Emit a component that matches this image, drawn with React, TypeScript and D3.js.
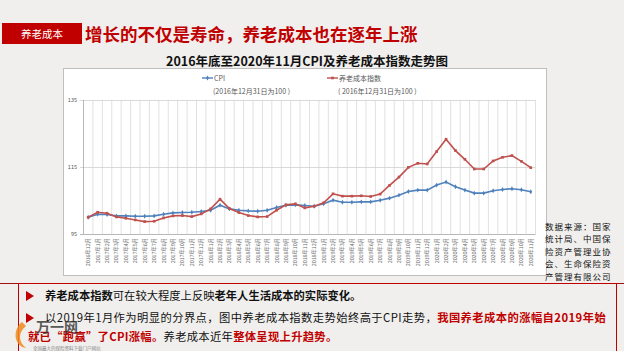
import React, { useEffect, useRef } from 'react'
import * as d3 from 'd3'

// months on the category axis
const months = [
  '2016年12月',
  '2017年1月', '2017年2月', '2017年3月', '2017年4月', '2017年5月', '2017年6月',
  '2017年7月', '2017年8月', '2017年9月', '2017年10月', '2017年11月', '2017年12月',
  '2018年1月', '2018年2月', '2018年3月', '2018年4月', '2018年5月', '2018年6月',
  '2018年7月', '2018年8月', '2018年9月', '2018年10月', '2018年11月', '2018年12月',
  '2019年1月', '2019年2月', '2019年3月', '2019年4月', '2019年5月', '2019年6月',
  '2019年7月', '2019年8月', '2019年9月', '2019年10月', '2019年11月', '2019年12月',
  '2020年1月', '2020年2月', '2020年3月', '2020年4月', '2020年5月', '2020年6月',
  '2020年7月', '2020年8月', '2020年9月', '2020年10月', '2020年11月'
]

const cpi = [
  100, 100.9, 100.8, 100.4, 100.4, 100.3, 100.3, 100.4, 100.9, 101.3, 101.4, 101.5, 101.7,
  102.1, 103.6, 102.5, 102.1, 101.9, 101.8, 102.1, 102.9, 103.6, 103.7, 103.5, 103.3,
  104.0, 105.1, 104.5, 104.5, 104.6, 104.6, 105.1, 105.7, 106.6, 107.7, 108.1, 108.1,
  109.6, 110.5, 109.1, 108.1, 107.2, 107.2, 107.9, 108.3, 108.5, 108.2, 107.6
]

const pension = [
  100, 101.5, 101.2, 100.1, 99.7, 99.2, 98.7, 98.8, 99.8, 100.4, 100.5, 100.2, 101.0,
  102.5, 105.4, 102.6, 101.4, 100.5, 100.1, 100.2, 102.1, 103.7, 104.0, 102.8, 103.3,
  104.3, 107.0, 106.3, 106.3, 106.4, 106.2, 106.9, 109.5, 112.0, 114.9, 116.1, 115.9,
  119.6, 123.3, 119.9, 117.3, 114.4, 114.4, 116.8, 117.9, 118.4, 116.7, 114.8
]

const yTicks = [95, 115, 135]

const sources = ['数据来源：国家', '统计局、中国保', '险资产管理业协', '会、生命保险资', '产管理有限公司']

const FONT = '"Microsoft YaHei", "Noto Sans CJK SC", sans-serif'

function App() {
  const ref = useRef<SVGSVGElement>(null)

  useEffect(() => {
    const svg = d3.select(ref.current)
    svg.selectAll('*').remove()

    // slide background
    svg.append('rect').attr('width', 624).attr('height', 351).attr('fill', '#f0efed')

    // header
    svg.append('rect').attr('x', 2).attr('y', 23).attr('width', 80).attr('height', 21).attr('fill', '#c00000')
    svg.append('text').attr('x', 42).attr('y', 37.5).attr('text-anchor', 'middle')
      .attr('fill', '#fff').attr('font-size', 10.5).text('养老成本')
    svg.append('text').attr('x', 85).attr('y', 41).attr('fill', '#c00000')
      .attr('font-size', 17.5).attr('font-weight', 'bold')
      .text('增长的不仅是寿命，养老成本也在逐年上涨')

    // chart title
    svg.append('text').attr('x', 307).attr('y', 66).attr('text-anchor', 'middle')
      .attr('font-size', 12.5).attr('font-weight', 'bold').attr('fill', '#111')
      .text('2016年底至2020年11月CPI及养老成本指数走势图')

    // chart box
    svg.append('rect').attr('x', 63.5).attr('y', 68.5).attr('width', 483).attr('height', 207)
      .attr('fill', '#fff').attr('stroke', '#bfbfbf')

    const x = d3.scaleBand().domain(months).range([83.5, 535.5])
    const cx = (d: string) => (x(d) as number) + x.bandwidth() / 2
    const y = d3.scaleLinear().domain([95, 135]).range([234, 100])

    // vertical grid at category boundaries
    svg.append('g').selectAll('line')
      .data(months).enter().append('line')
      .attr('x1', d => (x(d) as number) + x.bandwidth())
      .attr('x2', d => (x(d) as number) + x.bandwidth())
      .attr('y1', y(135)).attr('y2', y(95))
      .attr('stroke', '#d9d9d9').attr('stroke-width', 0.8)

    // horizontal grid
    svg.append('g').selectAll('line')
      .data(yTicks).enter().append('line')
      .attr('x1', 80).attr('x2', 535.5)
      .attr('y1', d => y(d) + 0.5).attr('y2', d => y(d) + 0.5)
      .attr('stroke', d => d === 95 ? '#a6a6a6' : '#d0d0d0').attr('stroke-width', 0.8)

    // y axis
    svg.append('line').attr('x1', 83.5).attr('x2', 83.5).attr('y1', y(135)).attr('y2', y(95))
      .attr('stroke', '#a6a6a6').attr('stroke-width', 0.8)
    svg.append('g').selectAll('text')
      .data(yTicks).enter().append('text')
      .attr('x', 77).attr('y', d => y(d) + 2)
      .attr('text-anchor', 'end').attr('font-size', 5.5).attr('fill', '#555')
      .text(d => d)

    // x labels
    svg.append('g').selectAll('text')
      .data(months).enter().append('text')
      .attr('transform', d => `translate(${cx(d) + 2},238) rotate(-90)`)
      .attr('text-anchor', 'end').attr('font-size', 5.3).attr('fill', '#666')
      .text(d => d)

    // lines
    const series = [
      { values: cpi, color: '#4f81bd', shape: d3.symbolDiamond },
      { values: pension, color: '#c0504d', shape: d3.symbolSquare }
    ]
    series.forEach(s => {
      const line = d3.line<number>()
        .x((d, i) => cx(months[i]))
        .y(d => y(d))
      svg.append('path').attr('d', line(s.values))
        .attr('fill', 'none').attr('stroke', s.color).attr('stroke-width', 1.6)
      svg.append('g').selectAll('path')
        .data(s.values).enter().append('path')
        .attr('d', d3.symbol().type(s.shape).size(7)())
        .attr('transform', (d, i) => `translate(${cx(months[i])},${y(d)})`)
        .attr('fill', s.color)
    })

    // legend
    const legend = [
      { name: 'CPI', note: '(2016年12月31日为100 )', x: 202, color: '#4f81bd', shape: d3.symbolDiamond },
      { name: '养老成本指数', note: '( 2016年12月31日为100 )', x: 327, color: '#c0504d', shape: d3.symbolSquare }
    ]
    legend.forEach(l => {
      svg.append('line').attr('x1', l.x).attr('x2', l.x + 11).attr('y1', 78).attr('y2', 78)
        .attr('stroke', l.color).attr('stroke-width', 1.4)
      svg.append('path').attr('d', d3.symbol().type(l.shape).size(7)())
        .attr('transform', `translate(${l.x + 5.5},78)`).attr('fill', l.color)
      svg.append('text').attr('x', l.x + 12).attr('y', 80.5)
        .attr('font-size', 7).attr('fill', '#595959').text(l.name)
      svg.append('text').attr('x', l.x + 11).attr('y', 93.5)
        .attr('font-size', 7).attr('fill', '#595959').text(l.note)
    })

    // data source
    svg.append('g').selectAll('text')
      .data(sources).enter().append('text')
      .attr('x', 545).attr('y', (d, i) => 230 + i * 12.4)
      .attr('font-size', 8.5).attr('letter-spacing', 1).attr('fill', '#111')
      .text(d => d)

    // bottom box
    svg.append('line').attr('x1', 0).attr('x2', 624).attr('y1', 283.5).attr('y2', 283.5)
      .attr('stroke', '#a01010').attr('stroke-width', 1.2)
    svg.append('rect').attr('x', 18.5).attr('y', 283.5).attr('width', 598).attr('height', 80)
      .attr('fill', 'none').attr('stroke', '#c00000').attr('stroke-width', 1)

    const tri = [[26, 291], [26, 301], [34, 296]]
    ;[0, 22].forEach(dy => {
      svg.append('path')
        .attr('d', d3.line()(tri.map(p => [p[0], p[1] + dy] as [number, number])) + 'Z')
        .attr('fill', '#c00000')
    })

    const rows = [
      { x: 45, y: 300, ls: 0, parts: [['养老成本指数', 'b'], ['可在较大程度上反映', 'n'], ['老年人生活成本的实际变化。', 'b']] },
      { x: 45, y: 322, ls: 0.42, parts: [['以2019年1月作为明显的分界点，图中养老成本指数走势始终高于CPI走势，', 'n'], ['我国养老成本的涨幅自2019年始', 'r']] },
      { x: 28, y: 341, ls: 0.3, parts: [['就已“跑赢”了CPI涨幅。', 'r'], ['养老成本近年', 'n'], ['整体呈现上升趋势。', 'r']] }
    ]
    rows.forEach(r => {
      const t = svg.append('text').attr('x', r.x).attr('y', r.y).attr('font-size', 11.3)
        .attr('letter-spacing', r.ls)
      r.parts.forEach(p => {
        t.append('tspan').text(p[0])
          .attr('fill', p[1] === 'r' ? '#c00000' : '#111')
          .attr('font-weight', p[1] === 'n' ? 'normal' : 'bold')
      })
    })

    // watermark logo
    svg.append('path').attr('d', 'M22,322 C12,330 14,346 26,348 C18,342 18,332 26,326 Z')
      .attr('fill', '#f08a1c').attr('opacity', 0.85)
    svg.append('text').attr('x', 36).attr('y', 332).attr('font-size', 14).attr('font-weight', 'bold')
      .attr('fill', '#333').attr('opacity', 0.8).text('万一网')
    svg.append('text').attr('x', 33).attr('y', 349.5).attr('font-size', 4.5).attr('fill', '#888')
      .text('全国最大的保险资料下载门户网站')
  }, [])

  return (
    <svg ref={ref} width={624} height={351}
      style={{ position: 'absolute', left: 0, top: 0, fontFamily: FONT }}></svg>
  )
}

export default App
